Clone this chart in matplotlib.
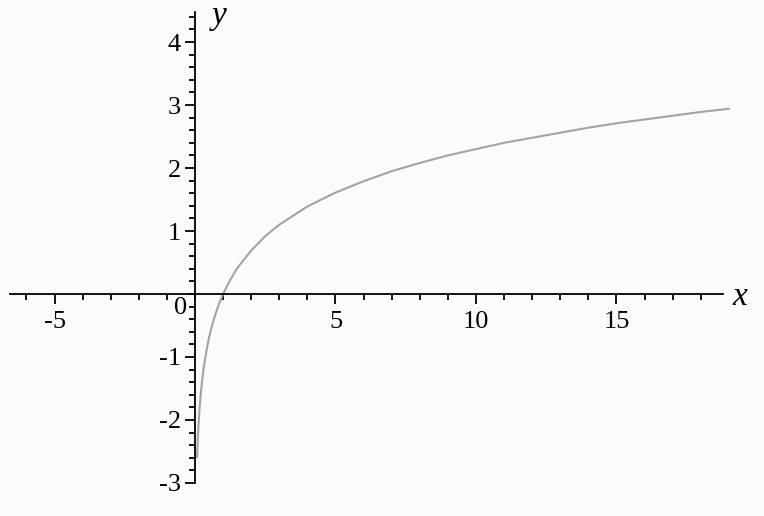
import matplotlib
matplotlib.use("Agg")
import matplotlib.pyplot as plt
import numpy as np
from matplotlib.ticker import FixedLocator

# values
xs = [0.075, 0.09, 0.11, 0.13, 0.16, 0.2, 0.25, 0.3, 0.4, 0.5, 0.6, 0.7, 0.85,
      1.0, 1.25, 1.5, 2.0, 2.5, 3.0, 4.0, 5.0, 6.0, 7.0, 8.0, 9.0, 10.0,
      11.0, 12.0, 13.0, 14.0, 15.0, 16.0, 17.0, 18.0, 19.0]
ys = [-2.59, -2.41, -2.21, -2.04, -1.83, -1.61, -1.39, -1.20, -0.92, -0.69,
      -0.51, -0.36, -0.16, 0.0, 0.22, 0.41, 0.69, 0.92, 1.10, 1.39, 1.61,
      1.79, 1.95, 2.08, 2.20, 2.30, 2.40, 2.48, 2.56, 2.64, 2.71, 2.77,
      2.83, 2.89, 2.94]

x_major = [-5, 5, 10, 15]
y_major = [-3, -2, -1, 1, 2, 3, 4]

fig = plt.figure(figsize=(7.64, 5.16), dpi=100, facecolor="#fbfbfb")
ax = fig.add_axes([0, 0, 1, 1])
ax.set_facecolor("#fbfbfb")

ax.plot(xs, ys, color="#a3a3a3", linewidth=1.5)

ax.set_xlim(-6.94, 20.25)
ax.set_ylim(-3.524, 4.667)

for s in ["top", "right"]:
    ax.spines[s].set_visible(False)
ax.spines["left"].set_position(("data", 0))
ax.spines["bottom"].set_position(("data", 0))
ax.spines["left"].set_bounds(-3, 4.48)
ax.spines["bottom"].set_bounds(-6.6, 18.8)
for s in ["left", "bottom"]:
    ax.spines[s].set_linewidth(1.3)
    ax.spines[s].set_color("black")

ax.xaxis.set_major_locator(FixedLocator(x_major))
ax.xaxis.set_minor_locator(FixedLocator(np.arange(-6, 19, 1)))
ax.yaxis.set_major_locator(FixedLocator(y_major))
ax.yaxis.set_minor_locator(FixedLocator(np.round(np.arange(-3, 4.41, 0.2), 2)))

ax.tick_params(axis="x", which="major", direction="out", length=7, width=1.3,
               pad=5, labelsize=19)
ax.tick_params(axis="x", which="minor", direction="out", length=4, width=1.3)
ax.tick_params(axis="y", which="major", direction="out", length=7, width=1.3,
               pad=3, labelsize=19)
ax.tick_params(axis="y", which="minor", direction="out", length=4, width=1.3)

ax.set_yticklabels([str(v) for v in y_major], family="Liberation Serif")
ax.set_xticklabels([str(v) for v in x_major], family="Liberation Serif")

ax.text(-0.5, -0.22, "0", family="Liberation Serif", fontsize=19,
        ha="center", va="center")
ax.text(19.4, -0.05, "x", family="Liberation Serif", style="italic",
        fontsize=24, ha="center", va="center")
ax.text(0.85, 4.41, "y", family="Liberation Serif", style="italic",
        fontsize=24, ha="center", va="center")

fig.savefig("out.png", dpi=100, facecolor=fig.get_facecolor())
